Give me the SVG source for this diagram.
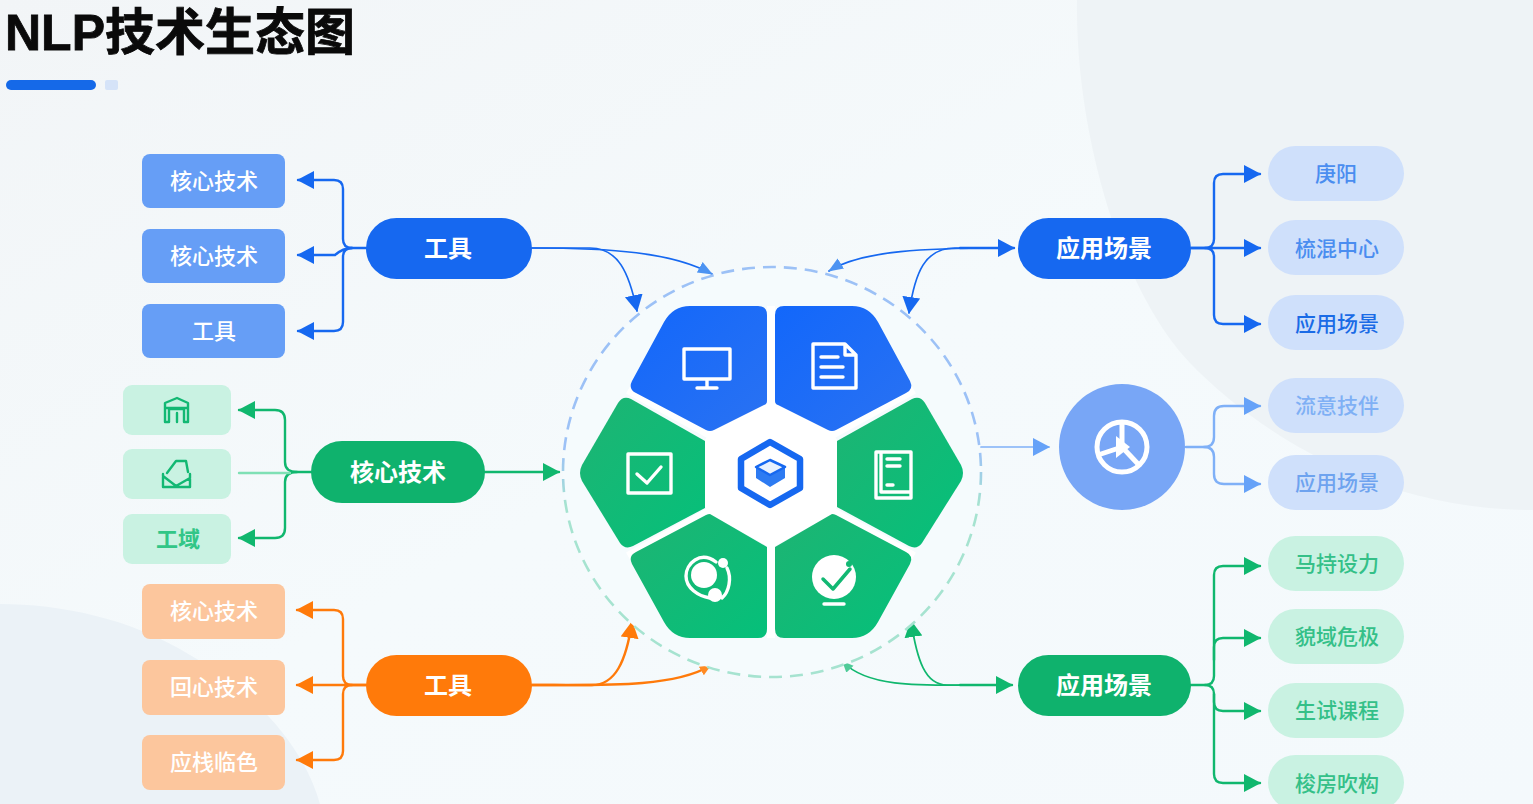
<svg xmlns="http://www.w3.org/2000/svg" width="1533" height="804" viewBox="0 0 1533 804">
<style>
text{font-family:"Noto Sans CJK SC","Noto Sans",sans-serif;text-anchor:middle}
.t{font-size:22px;font-weight:500}
.w{fill:#fff}
.pt{font-size:24px;font-weight:700;fill:#fff}
.c{fill:none;stroke-width:2.4;stroke-linecap:round}
.thin{stroke-width:1.7}
.b{stroke:#1668f0}.lb{stroke:#7fb0f7}.g{stroke:#10b76e}.o{stroke:#ff7a0a}
.bR{fill:#669ef6}.gR{fill:#c9f2e2}.oR{fill:#fcc69d}
.bP{fill:#cfe0fb}.gP{fill:#c9f2e2}
.sb{fill:#4a8df0;font-size:21px;font-weight:500}
.sg{fill:#34c088;font-size:21px;font-weight:500}
.ic{fill:none;stroke:#fff;stroke-width:3.4;stroke-linecap:round;stroke-linejoin:round}
.lg{fill:none;stroke:#12b873;stroke-width:2.4;stroke-linejoin:round;stroke-linecap:round}
</style>
<defs>
<linearGradient id="bg" x1="0" y1="0" x2="1" y2="1"><stop offset="0" stop-color="#f2f5f7"/><stop offset=".5" stop-color="#f5fafc"/><stop offset="1" stop-color="#f4f9fc"/></linearGradient>
<linearGradient id="ring" gradientUnits="userSpaceOnUse" x1="771" y1="267" x2="771" y2="677"><stop offset=".45" stop-color="#9cc1f6"/><stop offset=".58" stop-color="#a6e3d0"/></linearGradient>
<linearGradient id="pb" x1="0" y1="0" x2="1" y2="1"><stop offset="0" stop-color="#1267fb"/><stop offset="1" stop-color="#2a72f2"/></linearGradient>
<linearGradient id="pg" x1="0" y1="0" x2="1" y2="1"><stop offset="0" stop-color="#1eb473"/><stop offset="1" stop-color="#05c07a"/></linearGradient>
<marker id="mb" markerUnits="userSpaceOnUse" markerWidth="20" markerHeight="20" refX="16" refY="9" orient="auto"><path d="M0 0L17 9L0 18Z" fill="#1668f0"/></marker>
<marker id="mbs" markerUnits="userSpaceOnUse" markerWidth="18" markerHeight="14" refX="14" refY="6" orient="auto"><path d="M0 0L15 6L0 12Z" fill="#4c93f2"/></marker>
<marker id="mlb" markerUnits="userSpaceOnUse" markerWidth="20" markerHeight="20" refX="16" refY="9" orient="auto"><path d="M0 0L17 9L0 18Z" fill="#66a2f8"/></marker>
<marker id="mg" markerUnits="userSpaceOnUse" markerWidth="20" markerHeight="20" refX="16" refY="9" orient="auto"><path d="M0 0L17 9L0 18Z" fill="#10b76e"/></marker>
<marker id="mgs" markerUnits="userSpaceOnUse" markerWidth="14" markerHeight="12" refX="10" refY="5" orient="auto"><path d="M0 0L11 5L0 10Z" fill="#4fcb98"/></marker>
<marker id="mo" markerUnits="userSpaceOnUse" markerWidth="20" markerHeight="20" refX="16" refY="9" orient="auto"><path d="M0 0L17 9L0 18Z" fill="#ff7a0a"/></marker>
<marker id="mos" markerUnits="userSpaceOnUse" markerWidth="14" markerHeight="12" refX="10" refY="5" orient="auto"><path d="M0 0L11 5L0 10Z" fill="#ff8a22"/></marker>
</defs>

<g id="background">
<rect width="1533" height="804" fill="url(#bg)"/>
<path d="M1077 0C1075 130 1120 290 1190 363C1260 435 1380 510 1533 510V0Z" fill="#eef3f6"/>
<path d="M0 604C60 604 130 618 190 655C260 695 305 750 320 804H0Z" fill="#ebf2f7"/>
</g>

<g id="title">
<text x="5" y="50" style="font-family:'Liberation Sans','Noto Sans CJK SC',sans-serif;text-anchor:start;font-size:50px;font-weight:700;stroke:#0a0a0a;stroke-width:.8" fill="#0a0a0a">NLP技术生态图</text>
<rect x="6" y="80" width="90" height="10" rx="5" fill="#1569e8"/>
<rect x="105" y="80" width="13" height="10" rx="2" fill="#d5e3f8"/>
</g>

<g id="connectors">
<!-- top-left -->
<path class="c b" marker-end="url(#mb)" d="M366 248H352Q343 248 343 239V189Q343 180 334 180H298"/>
<path class="c b" marker-end="url(#mb)" d="M352 248Q343 248 335 255H298"/>
<path class="c b" marker-end="url(#mb)" d="M352 248Q343 248 343 257V322Q343 331 334 331H298"/>
<path class="c b thin" marker-end="url(#mb)" d="M532 248H590C618 248 629 272 637 311"/>
<path class="c b thin" marker-end="url(#mbs)" d="M532 248C610 248 672 252 712 274"/>
<!-- top-right -->
<path class="c b" marker-end="url(#mb)" d="M960 248H1014"/>
<path class="c b thin" marker-end="url(#mb)" d="M965 248H955C925 248 915 272 909 313"/>
<path class="c b thin" marker-end="url(#mbs)" d="M1000 248C930 248 862 250 829 271"/>
<path class="c b" marker-end="url(#mb)" d="M1191 248H1205Q1214 248 1214 239V183Q1214 174 1223 174H1260"/>
<path class="c b" marker-end="url(#mb)" d="M1191 248H1260"/>
<path class="c b" marker-end="url(#mb)" d="M1205 248Q1214 248 1214 257V315Q1214 324 1223 324H1260"/>
<!-- core -->
<path class="c g" marker-end="url(#mg)" d="M311 472H297Q285 472 285 462V420Q285 410 275 410H239"/>
<path class="c g" marker-end="url(#mg)" d="M297 472Q285 472 285 482V528Q285 538 275 538H239"/>
<path class="c" stroke="#7fe0b5" d="M239 473H290"/>
<path class="c g" marker-end="url(#mg)" d="M485 472H559"/>
<!-- circle to right -->
<path class="c lb thin" marker-end="url(#mlb)" d="M981 447H1049"/>
<path class="c lb" marker-end="url(#mlb)" d="M1186 447H1204Q1214 447 1214 437V416Q1214 406 1224 406H1260"/>
<path class="c lb" marker-end="url(#mlb)" d="M1204 447Q1214 447 1214 457V474Q1214 484 1224 484H1260"/>
<!-- orange -->
<path class="c o" marker-end="url(#mo)" d="M366 685H352Q343 685 343 676V619Q343 610 334 610H297"/>
<path class="c o" marker-end="url(#mo)" d="M366 685H297"/>
<path class="c o" marker-end="url(#mo)" d="M352 685Q343 685 343 694V751Q343 760 334 760H297"/>
<path class="c o" stroke-width="2" marker-end="url(#mo)" d="M532 685H592C615 685 626 662 632 622"/>
<path class="c o" stroke-width="2" marker-end="url(#mos)" d="M532 685C600 685 672 688 710 666"/>
<!-- bottom-right -->
<path class="c g" marker-end="url(#mg)" d="M960 685H1012"/>
<path class="c g thin" marker-end="url(#mg)" d="M965 685H947C925 685 917 660 911 621"/>
<path class="c g thin" marker-end="url(#mgs)" d="M1000 685C930 685 870 690 843 662"/>
<path class="c g" marker-end="url(#mg)" d="M1191 685H1205Q1214 685 1214 676V575Q1214 566 1223 566H1260"/>
<path class="c g" marker-end="url(#mg)" d="M1214 660V647Q1214 638 1223 638H1260"/>
<path class="c g" marker-end="url(#mg)" d="M1205 685Q1214 685 1214 694V702Q1214 711 1223 711H1260"/>
<path class="c g" marker-end="url(#mg)" d="M1214 694V774Q1214 783 1223 783H1260"/>
</g>

<g id="hub">
<ellipse cx="772" cy="472" rx="209" ry="205" fill="#f5fbfd" stroke="url(#ring)" stroke-width="2.6" stroke-dasharray="13 8"/>
<g id="hub-white" fill="#fff" stroke="#fff">
<path stroke="none" d="M710 432L767 400H775L832 432L837 440V507L832 514L775 546H767L710 514L705 507V440Z"/>
<path fill="none" stroke-width="8" d="M771 306V402M771 546V638M712 436L628 390M830 436L914 390M712 510L628 556M830 510L914 556"/>
</g>
<g id="seg-monitor">
<path fill="url(#pb)" d="M690 306H758Q767 306 767 315V401Q767 404 764 405L714 430Q710 432 706 430L636 393Q628 389 632 381L664 322Q673 306 690 306Z"/>
<path class="ic" d="M684 349H730V379H684ZM707 380V387M697 388H717"/>
</g>
<g id="seg-doc">
<path fill="url(#pb)" d="M852 306H784Q775 306 775 315V401Q775 404 778 405L828 430Q832 432 836 430L906 393Q914 389 910 381L878 322Q869 306 852 306Z"/>
<path class="ic" d="M813 344H845L856 355V388H813ZM845 344V355H856M821 357H838M821 367H843M821 377H843"/>
</g>
<g id="seg-check">
<path fill="url(#pg)" d="M705 441V508L633 546Q625 550 620 543L582 481Q578 473 582 465L618 403Q623 395 631 399Z"/>
<path class="ic" d="M628 454H671V493H628ZM637 474L647 483L661 467"/>
</g>
<g id="seg-book">
<path fill="url(#pg)" d="M837 441V507L909 546Q917 550 922 543L961 481Q965 473 961 465L925 403Q920 395 912 399Z"/>
<path class="ic" d="M876 452H911V498H876ZM881 452V492H911M887 459H900M887 466H900M887 485H893"/>
</g>
<g id="seg-orbit">
<path fill="url(#pg)" d="M710 514L767 547V629Q767 638 758 638H690Q673 638 664 622L632 564Q628 556 636 552L706 515Q708 514 710 514Z"/>
<circle cx="704" cy="575" r="13" fill="#fff"/>
<circle cx="715" cy="595" r="7" fill="#fff"/>
<circle cx="723" cy="563" r="5" fill="#fff"/>
<path class="ic" d="M716 562C700 550 686 564 686 576C686 588 698 596 710 598M727 568C732 578 729 592 722 598"/>
</g>
<g id="seg-globe">
<path fill="url(#pg)" d="M832 514L775 547V629Q775 638 784 638H852Q869 638 878 622L910 564Q914 556 906 552L836 515Q834 514 832 514Z"/>
<circle cx="834" cy="577" r="22" fill="#fff"/>
<path d="M823 579L833 589L850 569" fill="none" stroke="#12b873" stroke-width="3.5" stroke-linecap="round" stroke-linejoin="round"/>
<circle cx="849" cy="564" r="3" fill="#12b873"/>
<path class="ic" d="M824 604H844"/>
</g>
<g id="seg-center">
<path fill="none" stroke="#1668f0" stroke-width="6.5" stroke-linejoin="round" d="M770 442L800 459V488L770 505L741 488V459Z"/>
<path fill="#2d7bf2" d="M756 467V478L770 487L785 478V467L770 475Z"/>
<path fill="#e8f1fe" stroke="#1668f0" stroke-width="2.5" stroke-linejoin="round" d="M756 467L770 460L785 467L770 475Z"/>
</g>
</g>

<g id="node-l1"><rect class="bR" x="142" y="154" width="143" height="54" rx="8"/><text class="t w" x="214" y="189">核心技术</text></g>
<g id="node-l2"><rect class="bR" x="142" y="229" width="143" height="54" rx="8"/><text class="t w" x="214" y="264">核心技术</text></g>
<g id="node-l3"><rect class="bR" x="142" y="304" width="143" height="54" rx="8"/><text class="t w" x="214" y="339">工具</text></g>

<g id="node-g1"><rect class="gR" x="123" y="385" width="108" height="50" rx="9"/>
<path class="lg" d="M165 403L177 398L188 403V422H184V409H169V422H165ZM165 408H188M177 413V422"/></g>
<g id="node-g2"><rect class="gR" x="123" y="449" width="108" height="50" rx="9"/>
<path class="lg" d="M167 473L176 461L186 461L188 472M163 474V487H190V474M163 476L176 486L190 478"/></g>
<g id="node-g3"><rect class="gR" x="123" y="514" width="108" height="50" rx="9"/><text x="178" y="547" fill="#32c687" font-size="22" font-weight="700">工域</text></g>

<g id="node-o1"><rect class="oR" x="142" y="584" width="143" height="55" rx="8"/><text class="t w" x="214" y="619">核心技术</text></g>
<g id="node-o2"><rect class="oR" x="142" y="660" width="143" height="55" rx="8"/><text class="t w" x="214" y="695">回心技术</text></g>
<g id="node-o3"><rect class="oR" x="142" y="735" width="143" height="55" rx="8"/><text class="t w" x="214" y="770">应栈临色</text></g>

<g id="pill-tool-blue"><rect x="366" y="218" width="166" height="61" rx="30.5" fill="#1668f0"/><text class="pt" x="448" y="257">工具</text></g>
<g id="pill-scene-blue"><rect x="1018" y="218" width="173" height="61" rx="30.5" fill="#1668f0"/><text class="pt" x="1104" y="257">应用场景</text></g>
<g id="pill-core-green"><rect x="311" y="441" width="174" height="62" rx="31" fill="#0fb26d"/><text class="pt" x="398" y="481">核心技术</text></g>
<g id="pill-tool-orange"><rect x="366" y="655" width="166" height="61" rx="30.5" fill="#ff7a0a"/><text class="pt" x="448" y="694">工具</text></g>
<g id="pill-scene-green"><rect x="1018" y="655" width="173" height="61" rx="30.5" fill="#0fb26d"/><text class="pt" x="1104" y="694">应用场景</text></g>

<g id="node-circle"><circle cx="1122" cy="447" r="63" fill="#78a6f6"/>
<circle cx="1122" cy="447" r="25" fill="none" stroke="#fff" stroke-width="5"/>
<path d="M1122 422V447L1098 455M1122 447L1139 465" fill="none" stroke="#fff" stroke-width="5"/>
<path d="M1116 436L1130 447L1116 458Z" fill="#fff"/></g>

<g id="node-r1"><rect class="bP" x="1268" y="146" width="136" height="55" rx="27.5"/><text class="sb" x="1336" y="181">庚阳</text></g>
<g id="node-r2"><rect class="bP" x="1268" y="220" width="136" height="55" rx="27.5"/><text class="sb" x="1337" y="256">梳混中心</text></g>
<g id="node-r3"><rect class="bP" x="1268" y="295" width="136" height="55" rx="27.5"/><text class="sb" x="1337" y="331" style="fill:#1a6be6">应用场景</text></g>
<g id="node-r4"><rect class="bP" x="1268" y="378" width="136" height="55" rx="27.5"/><text class="sb" x="1337" y="413" style="fill:#7fb0f5">流意技伴</text></g>
<g id="node-r5"><rect class="bP" x="1268" y="455" width="136" height="55" rx="27.5"/><text class="sb" x="1337" y="490" style="fill:#6ea3ef">应用场景</text></g>
<g id="node-r6"><rect class="gP" x="1268" y="536" width="136" height="55" rx="27.5"/><text class="sg" x="1337" y="571">马持设力</text></g>
<g id="node-r7"><rect class="gP" x="1268" y="609" width="136" height="55" rx="27.5"/><text class="sg" x="1337" y="644">貌域危极</text></g>
<g id="node-r8"><rect class="gP" x="1268" y="683" width="136" height="55" rx="27.5"/><text class="sg" x="1337" y="718">生试课程</text></g>
<g id="node-r9"><rect class="gP" x="1268" y="755" width="136" height="55" rx="27.5"/><text class="sg" x="1337" y="791">梭房吹构</text></g>
</svg>
